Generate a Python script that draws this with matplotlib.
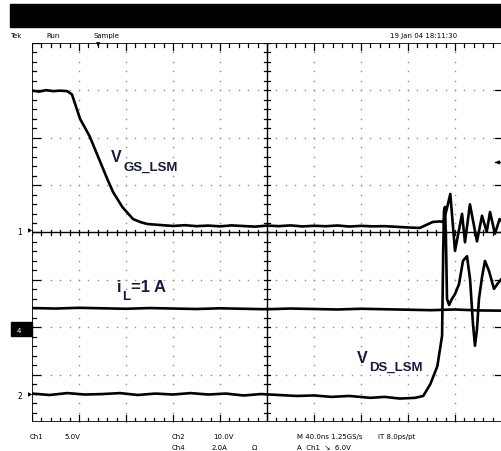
import numpy as np
import matplotlib.pyplot as plt
from matplotlib.patches import Rectangle

W, H = 501, 452

# scope settings: units per division, ground marker position (div from centre)
ns_per_div = 40.0
ch1_scale, ch1_gnd = 5.0, 0.074     # V_GS_LSM
ch2_scale, ch2_gnd = 10.0, -3.41    # V_DS_LSM
ch4_scale, ch4_gnd = 2.0, -2.04     # i_L

# ch1: gate-source voltage (V) vs time (ns)
t_vgs = [0, 6, 12, 18, 24, 30, 34, 41, 49, 58, 64, 69, 77, 86, 92, 98,
         109, 120, 130, 140, 150, 160, 170, 180, 190, 200, 210, 220, 230,
         240, 250, 260, 270, 280, 290, 300, 313, 322, 330, 336, 341, 347,
         350, 353, 356, 360, 366, 368.5, 372.7, 378.7, 383, 387, 389.8,
         394, 398, 402]
vgs = [14.6, 14.5, 14.65, 14.55, 14.6, 14.55, 14.2, 11.6, 9.8, 7.1, 5.3,
       3.9, 2.3, 1.05, 0.74, 0.53, 0.42, 0.32, 0.40, 0.30, 0.36, 0.28,
       0.38, 0.31, 0.25, 0.36, 0.30, 0.38, 0.27, 0.34, 0.29, 0.37, 0.26,
       0.33, 0.28, 0.30, 0.21, 0.15, 0.11, 0.45, 0.74, 0.80, 0.74, 2.1,
       3.7, -2.3, 1.6, -1.4, 2.6, -1.3, 1.4, -0.3, 1.8, -0.5, 1.05, 0.5]

# ch2: drain-source voltage (V)
t_vds = [0, 15, 30, 45, 60, 75, 90, 105, 120, 135, 150, 165, 180, 195,
         210, 225, 240, 255, 270, 288, 300, 313, 326, 333, 339, 345, 347,
         349, 350, 350.6, 351.5, 352.3, 353.2, 355, 357.4, 360, 363.4,
         366.8, 370.2, 372.8, 375.3, 377, 378.7, 380.4, 383, 385.5, 388.9,
         393.2, 396.6, 401]
vds = [0.1, -0.2, 0.2, -0.1, 0.0, 0.2, -0.2, 0.1, -0.1, 0.2, -0.1, 0.1,
       -0.3, 0.0, -0.2, -0.4, -0.3, -0.6, -0.4, -0.8, -0.6, -0.95, -0.8,
       -0.4, 2.1, 5.9, 9.1, 12.3, 30.6, 38.6, 39.5, 32.7, 20.1, 18.8,
       20.1, 21.1, 23.2, 28.1, 29.1, 24.3, 14.8, 10.2, 13.7, 20.1, 24.7,
       28.1, 26.0, 22.2, 23.4, 24.7]

# ch4: inductor current (A)
t_il = [0, 20, 40, 60, 80, 100, 120, 140, 160, 180, 200, 220, 240, 260,
        280, 300, 320, 340, 360, 380, 400]
il = [0.89, 0.87, 0.90, 0.88, 0.86, 0.89, 0.87, 0.85, 0.88, 0.86, 0.84,
      0.87, 0.85, 0.83, 0.86, 0.84, 0.82, 0.80, 0.83, 0.79, 0.78]


def fx(px):
    return px / W


def fy(py):
    return 1 - py / H


fig = plt.figure(figsize=(W / 100, H / 100), dpi=100)
fig.patch.set_facecolor('white')

# screen area in pixels: left 32, right 502, top 44, bottom 423
rect = [fx(32), fy(423), 470 / W, 379 / H]

# graticule
ax = fig.add_axes(rect)
ax.set_xlim(0, 10)
ax.set_ylim(-4, 4)
ax.axis('off')
dot = np.arange(0, 10.01, 0.2)
doty = np.arange(-4, 4.01, 0.2)
for gx in range(1, 10):
    if gx != 5:
        ax.plot(np.full(len(doty), gx), doty, ls='none', marker='s', ms=1.0,
                color='#8c8c8c', mew=0)
for gy in range(-3, 4):
    if gy != 0:
        ax.plot(dot, np.full(len(dot), gy), ls='none', marker='s', ms=1.0,
                color='#8c8c8c', mew=0)
ax.axhline(0, color='black', lw=1.0)
ax.axvline(5, color='black', lw=1.0)
ax.axvline(0, color='black', lw=1.2)
ax.axhline(4, color='black', lw=1.2)
ax.axhline(-4, color='black', lw=1.2)
kx = 3 / 47
ky = 3 / 47.4
for x in dot:
    big = abs(x - round(x)) < 1e-6
    ax.plot([x, x], [-ky, ky], color='black', lw=0.9)
    ax.plot([x, x], [4, 4 - (2.2 if big else 1.3) * ky], color='black', lw=0.9)
    ax.plot([x, x], [-4, -4 + (2.2 if big else 1.3) * ky], color='black', lw=0.9)
for y in doty:
    big = abs(y - round(y)) < 1e-6
    ax.plot([5 - kx, 5 + kx], [y, y], color='black', lw=0.9)
    ax.plot([0, (2.6 if big else 1.4) * kx], [y, y], color='black', lw=0.9)
    if big and abs(y) < 4:
        ax.plot([10 - 2.2 * kx, 10], [y, y], color='black', lw=0.9)

# traces, each channel on its own scale
def channel(t, v, scale, gnd):
    a = fig.add_axes(rect)
    a.set_xlim(0, 10 * ns_per_div)
    a.set_ylim((-4 - gnd) * scale, (4 - gnd) * scale)
    a.axis('off')
    a.patch.set_alpha(0)
    a.plot(t, v, color='black', lw=1.9, solid_joinstyle='round')
    return a

channel(t_vgs, vgs, ch1_scale, ch1_gnd)
channel(t_il, il, ch4_scale, ch4_gnd)
channel(t_vds, vds, ch2_scale, ch2_gnd)

# labels on the traces
lab = dict(color='#171b40', weight='bold', family='Liberation Sans')
fig.text(fx(111), fy(162), 'V', fontsize=11.5, **lab)
fig.text(fx(123), fy(171), 'GS_LSM', fontsize=9.5, **lab)
fig.text(fx(117), fy(292), 'i', fontsize=12, **lab)
fig.text(fx(122), fy(300), 'L', fontsize=9.5, **lab)
fig.text(fx(131), fy(292), '=1 A', fontsize=12, **lab)
fig.text(fx(357), fy(363), 'V', fontsize=11.5, **lab)
fig.text(fx(369), fy(371), 'DS_LSM', fontsize=9.5, **lab)

# header
fig.patches.append(Rectangle((fx(10), fy(28)), fx(491), 23 / H,
                             transform=fig.transFigure, color='black'))
small = dict(fontsize=5, color='black', family='DejaVu Sans')
fig.text(fx(10), fy(38), 'Tek', **small)
fig.text(fx(46), fy(38), 'Run', **small)
fig.text(fx(94), fy(38), 'Sample', **small)
fig.text(fx(390), fy(38), '19 Jan 04 18:11:30', **small)
fig.text(fx(98), fy(44.5), '\u25BC', fontsize=4, ha='center', va='center')

# footer
fig.text(fx(30), fy(439), 'Ch1', **small)
fig.text(fx(64), fy(439), '5.0V', **small)
fig.text(fx(172), fy(439), 'Ch2', **small)
fig.text(fx(213), fy(439), '10.0V', **small)
fig.text(fx(297), fy(439), 'M 40.0ns 1.25GS/s', **small)
fig.text(fx(378), fy(439), 'IT 8.0ps/pt', **small)
fig.text(fx(172), fy(450), 'Ch4', **small)
fig.text(fx(212), fy(450), '2.0A', **small)
fig.text(fx(252), fy(450), '\u03A9', **small)
fig.text(fx(297), fy(450), 'A  Ch1  \u2198  6.0V', **small)

# channel markers on the left, trigger level on the right
fig.text(fx(17), fy(233), '1', fontsize=5.5, va='center')
fig.text(fx(32), fy(231), '\u25B6', fontsize=4, va='center', ha='right')
fig.text(fx(17), fy(397), '2', fontsize=5.5, va='center')
fig.text(fx(32), fy(395), '\u25B6', fontsize=4, va='center', ha='right')
fig.patches.append(Rectangle((fx(11), fy(337)), 21 / W, 14 / H,
                             transform=fig.transFigure, color='black'))
fig.text(fx(17), fy(331), '4', fontsize=5, va='center', color='white')
fig.text(fx(497), fy(163), '\u25C0', fontsize=4.5, va='center', ha='center')
fig.add_artist(plt.Line2D([fx(495), fx(501)], [fy(163), fy(163)],
                          color='black', lw=1.0))

fig.savefig('out.png', dpi=100, facecolor='white')
